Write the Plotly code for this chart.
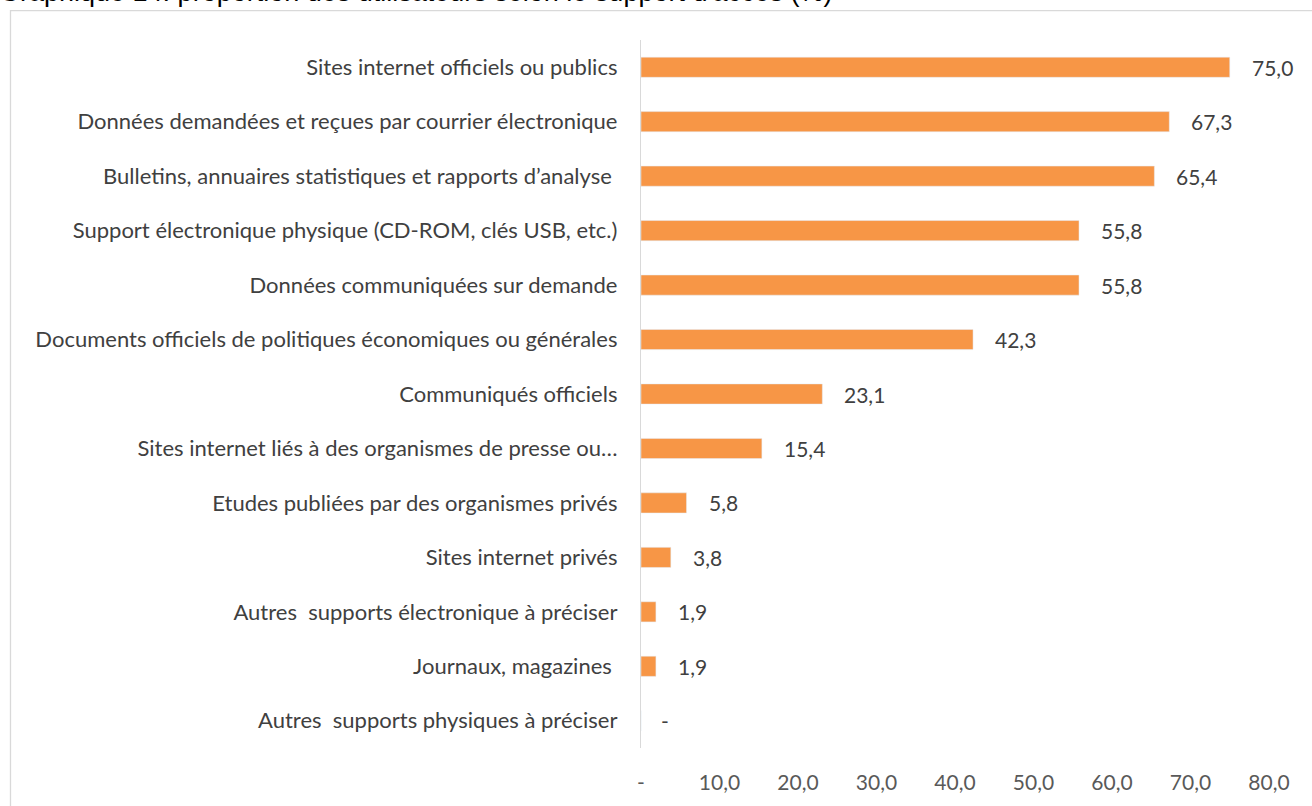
import plotly.graph_objects as go

categories = [
    "Sites internet officiels ou publics",
    "Données demandées et reçues par courrier électronique",
    "Bulletins, annuaires statistiques et rapports d’analyse ",
    "Support électronique physique (CD-ROM, clés USB, etc.)",
    "Données communiquées sur demande",
    "Documents officiels de politiques économiques ou générales",
    "Communiqués officiels",
    "Sites internet liés à des organismes de presse ou…",
    "Etudes publiées par des organismes privés",
    "Sites internet privés",
    "Autres  supports électronique à préciser",
    "Journaux, magazines ",
    "Autres  supports physiques à préciser",
]
values = [75.0, 67.3, 65.4, 55.8, 55.8, 42.3, 23.1, 15.4, 5.8, 3.8, 1.9, 1.9, 0.0]
tick_vals = [0, 10, 20, 30, 40, 50, 60, 70, 80]
tick_text = ["-", "10,0", "20,0", "30,0", "40,0", "50,0", "60,0", "70,0", "80,0"]
title_text = "Graphique 14: proportion des utilisateurs selon le support d'accès (%)"


def fmt(v):
    return "-" if v == 0 else f"{v:.1f}".replace(".", ",")


FONT = "Lato, Open Sans, sans-serif"
GRAY = "#595959"

fig = go.Figure(
    go.Bar(
        x=values,
        y=categories,
        orientation="h",
        marker=dict(color="#F79646"),
        width=0.37,
        hoverinfo="skip",
    )
)

W, H = 1312, 806
ml, mr, mt, mb = 641, 43, 40, 53
pw = W - ml - mr
ph = H - mt - mb


def px(p):
    return (p - ml) / pw


def py(p):
    return (H - mb - p) / ph


for c, v in zip(categories, values):
    fig.add_annotation(
        x=v, y=c, xref="x", yref="y", text=fmt(v), showarrow=False,
        xanchor="left", xshift=20 if v > 0 else 18,
        font=dict(family=FONT, size=21, color="#404040"),
    )

# chart border
fig.add_shape(
    type="rect", xref="paper", yref="paper",
    x0=px(10.5), x1=px(W + 20),
    y0=py(H + 20), y1=py(10.5),
    line=dict(color="#D9D9D9", width=1.3), layer="below",
)

fig.add_annotation(
    text=title_text, xref="paper", yref="paper",
    x=px(-3), y=py(-8), xanchor="left", yanchor="middle",
    showarrow=False, font=dict(family="Liberation Sans, Arial", size=27, color="#000000"),
)

fig.update_layout(
    width=W, height=H,
    margin=dict(l=ml, r=mr, t=mt, b=mb),
    paper_bgcolor="white", plot_bgcolor="white",
    showlegend=False,
    bargap=0.63,
    xaxis=dict(
        range=[0, 80], tickvals=tick_vals, ticktext=tick_text,
        showgrid=False, zeroline=False, showline=False,
        tickfont=dict(family=FONT, size=21, color=GRAY),
        ticklabelstandoff=20, fixedrange=True,
    ),
    yaxis=dict(
        autorange="reversed", showgrid=False, zeroline=False,
        showline=True, linecolor="#D9D9D9", linewidth=1.3,
        tickfont=dict(family=FONT, size=22, color="#404040"),
        ticklabelstandoff=18, ticks="", fixedrange=True,
    ),
)

fig.write_html(
    "out.html",
    config={"displayModeBar": False},
    post_script="document.body.style.margin='0';document.body.style.overflow='hidden';",
)
